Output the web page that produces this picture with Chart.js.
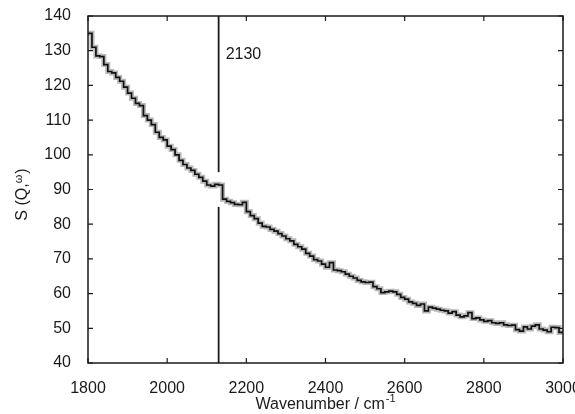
<!DOCTYPE html>
<html><head><meta charset="utf-8">
<script src="https://cdn.jsdelivr.net/npm/chart.js@4"></script>
<style>html,body{margin:0;padding:0;background:#fff}#wrap{width:575px;height:414px}</style>
</head><body><div id="wrap"><canvas id="c" width="575" height="414"></canvas></div>
<script>
const wavenumbers = [1800,1810,1820,1830,1840,1850,1860,1870,1880,1890,1900,1910,1920,1930,1940,1950,1960,1970,1980,1990,
2000,2010,2020,2030,2040,2050,2060,2070,2080,2090,2100,2110,2120,2130,2140,2150,2160,2170,2180,2190,
2200,2210,2220,2230,2240,2250,2260,2270,2280,2290,2300,2310,2320,2330,2340,2350,2360,2370,2380,2390,
2400,2410,2420,2430,2440,2450,2460,2470,2480,2490,2500,2510,2520,2530,2540,2550,2560,2570,2580,2590,
2600,2610,2620,2630,2640,2650,2660,2670,2680,2690,2700,2710,2720,2730,2740,2750,2760,2770,2780,2790,
2800,2810,2820,2830,2840,2850,2860,2870,2880,2890,2900,2910,2920,2930,2940,2950,2960,2970,2980,2990,3000];
const intensity = [135,131,128.5,128.3,126,124,123.6,122.3,121.2,119.5,117.8,116.3,114.8,114.2,111.3,110,108.7,106.5,105,104.3,
102.5,101.5,100,98.4,97.2,96.2,95.5,94.4,93.5,92.4,91.3,91,91.5,91.3,87.2,86.6,86.2,85.7,85.6,86.3,
83.6,82.5,81.6,80.3,79.4,79.2,78.5,78,77.3,76.6,75.8,75.2,74.2,73.5,72.8,71.6,70.8,69.8,69.4,68.5,
67.6,68.9,66.8,66.6,66.3,65.6,65,64.5,63.8,63.4,63.2,63.3,62,61.4,60.3,60.5,60.7,60.5,59.8,58.9,
58.4,57.6,57.2,56.6,57,55,56.1,55.8,55.5,55.2,55,54.4,54.8,53.8,53.3,53.6,54.5,52.8,53,52.4,
52,52.2,51.6,51.4,51.6,51,50.8,50.9,49.6,49.2,50.4,49.8,50.6,51,49.8,49.5,49,50.3,50.2,48.8,48.8];
const markerX = 2130;
const markerLabel = "2130";
const markerLowerSpan = [40, 85];
const markerUpperSpan = [95, 140];
const xTicks = [1800,2000,2200,2400,2600,2800,3000];
const yTicks = [40,50,60,70,80,90,100,110,120,130,140];
const xTitle = ["Wavenumber / cm", "-1"];
const yTitle = ["S (Q,", "\u03C9", ")"];

const pts = wavenumbers.map((x,i)=>({x:x,y:intensity[i]}));
const AREA = {left:88,right:563,top:16,bottom:363};
const FONT = "'Liberation Sans', Arial, sans-serif";
const INK = '#1a1a1a';

const framePlugin = {
  id:'frame',
  afterDraw(chart){
    const ctx=chart.ctx, a=chart.chartArea, xs=chart.scales.x, ys=chart.scales.y;
    ctx.save();
    ctx.strokeStyle=INK; ctx.lineWidth=1.5;
    ctx.strokeRect(a.left,a.top,a.right-a.left,a.bottom-a.top);
    ctx.lineWidth=1.2;
    ctx.beginPath();
    xTicks.forEach(v=>{const p=xs.getPixelForValue(v);
      ctx.moveTo(p,a.bottom);ctx.lineTo(p,a.bottom-5);
      ctx.moveTo(p,a.top);ctx.lineTo(p,a.top+5);});
    yTicks.forEach(v=>{const p=ys.getPixelForValue(v);
      ctx.moveTo(a.left,p);ctx.lineTo(a.left+5,p);
      ctx.moveTo(a.right,p);ctx.lineTo(a.right-5,p);});
    ctx.stroke();
    ctx.fillStyle=INK; ctx.font='16px '+FONT; ctx.textAlign='left'; ctx.textBaseline='middle';
    ctx.fillText(markerLabel, xs.getPixelForValue(markerX)+7, ys.getPixelForValue(129));
    // x title
    ctx.textBaseline='alphabetic';
    ctx.font='16px '+FONT;
    const w1=ctx.measureText(xTitle[0]).width;
    ctx.font='11px '+FONT;
    const w2=ctx.measureText(xTitle[1]).width;
    const cx=(a.left+a.right)/2;
    let sx=cx-(w1+w2+1)/2;
    ctx.font='16px '+FONT; ctx.fillText(xTitle[0],sx,409);
    ctx.font='11px '+FONT; ctx.fillText(xTitle[1],sx+w1+1,402);
    // y title
    ctx.translate(27,(a.top+a.bottom)/2+5);
    ctx.rotate(-Math.PI/2);
    ctx.font='16px '+FONT; const a1=ctx.measureText(yTitle[0]).width, a3=ctx.measureText(yTitle[2]).width;
    ctx.font='11px '+FONT; const a2=ctx.measureText(yTitle[1]).width;
    let ty=-(a1+a2+a3+1)/2;
    ctx.font='16px '+FONT; ctx.fillText(yTitle[0],ty,0);
    ctx.font='11px '+FONT; ctx.fillText(yTitle[1],ty+a1,-5);
    ctx.font='16px '+FONT; ctx.fillText(yTitle[2],ty+a1+a2+1,0);
    ctx.restore();
  }
};

new Chart(document.getElementById('c'),{
  type:'line',
  data:{datasets:[
    {data:pts, stepped:'before', borderColor:'#b8b8b8', borderWidth:5, pointRadius:0, fill:false, order:3},
    {data:pts, stepped:'before', borderColor:'#111', borderWidth:1.7, pointRadius:0, fill:false, order:2},
    {data:[{x:markerX,y:markerLowerSpan[0]},{x:markerX,y:markerLowerSpan[1]}], borderColor:INK, borderWidth:1.8, pointRadius:0, order:1},
    {data:[{x:markerX,y:markerUpperSpan[0]},{x:markerX,y:markerUpperSpan[1]}], borderColor:INK, borderWidth:1.8, pointRadius:0, order:1}
  ]},
  options:{
    responsive:false, animation:false, devicePixelRatio:1,
    layout:{padding:{left:0,right:575-AREA.right,top:AREA.top,bottom:0}},
    plugins:{legend:{display:false},tooltip:{enabled:false}},
    scales:{
      x:{type:'linear',min:1800,max:3000,
        afterBuildTicks(s){s.ticks=xTicks.map(v=>({value:v}));},
        afterFit(s){s.height=414-AREA.bottom; s.paddingLeft=0; s.paddingRight=0;},
        grid:{display:false}, border:{display:false},
        ticks:{color:INK,font:{family:FONT,size:16},padding:8,maxRotation:0,autoSkip:false,callback:v=>String(v)},
        title:{display:false}
      },
      y:{min:40,max:140,
        afterBuildTicks(s){s.ticks=yTicks.map(v=>({value:v}));},
        afterFit(s){s.width=AREA.left; s.paddingTop=0; s.paddingBottom=0;},
        grid:{display:false}, border:{display:false},
        ticks:{color:INK,font:{family:FONT,size:16},padding:9,autoSkip:false,callback:v=>String(v)},
        title:{display:false}
      }
    }
  },
  plugins:[framePlugin]
});
</script></body></html>
